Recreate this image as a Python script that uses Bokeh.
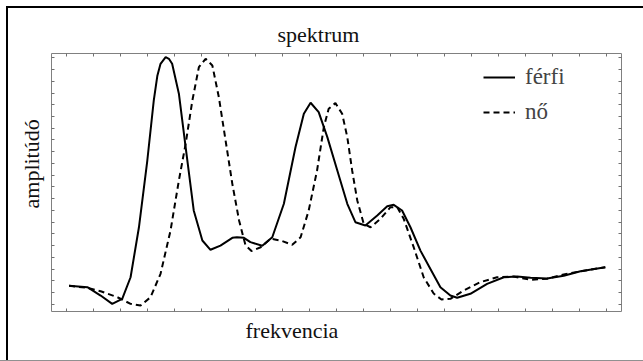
import math
from bokeh.plotting import figure
from bokeh.models import (Range1d, LinearAxis, FixedTicker, Title, Legend, LegendItem)
from bokeh.embed import file_html
from bokeh.resources import INLINE

# ---- data (frequency in tick units, amplitude in tick units) ----
male_x = [0.09, 0.77, 1.26, 1.69, 2.06, 2.37, 2.68, 2.99, 3.23, 3.36, 3.48, 3.67, 3.79, 3.91, 4.16, 4.41,
          4.71, 5.03, 5.33, 5.70, 6.14, 6.31, 6.57, 6.81, 7.25, 7.62, 8.05, 8.48, 8.79, 9.04,
          9.34, 9.66, 10.03, 10.40, 10.70, 11.07, 11.51, 11.88, 12.12, 12.43, 12.74, 13.11,
          13.48, 13.85, 14.22, 14.47, 14.96, 15.58, 16.20, 16.69, 17.19, 17.80, 18.42, 19.04, 19.96]
male_y = [1.57, 1.45, 0.74, 0.03, 0.46, 2.30, 6.56, 12.25, 17.37, 19.45, 20.49, 21.06, 20.92, 20.49, 17.94, 13.38,
          7.99, 5.43, 4.64, 5.00, 5.66, 5.71, 5.66, 5.29, 4.98, 5.71, 8.56, 13.38, 16.23, 17.17,
          16.37, 14.24, 11.40, 8.56, 6.99, 6.71, 7.56, 8.35, 8.47, 7.99, 6.56, 4.57,
          3.00, 1.45, 0.74, 0.55, 0.89, 1.74, 2.30, 2.36, 2.25, 2.19, 2.42, 2.81, 3.15]

female_x = [0.09, 0.77, 1.26, 1.88, 2.37, 2.74, 3.11, 3.48, 3.85, 4.16, 4.41, 4.66, 4.90, 5.15,
            5.40, 5.64, 5.89, 6.14, 6.39, 6.63, 6.85, 7.19, 7.56, 7.93, 8.36, 8.67, 8.97, 9.28,
            9.53, 9.71, 9.96, 10.21, 10.40, 10.58, 10.77, 11.01, 11.26, 11.63, 12.00, 12.25,
            12.49, 12.86, 13.23, 13.60, 13.89, 14.22, 14.71, 15.33, 15.95, 16.57, 17.19, 17.80,
            18.42, 19.04, 19.96]
female_y = [1.57, 1.40, 1.11, 0.60, 0.03, -0.11, 0.60, 2.59, 6.28, 10.55, 13.67, 17.37, 20.20, 20.92,
            20.35, 17.65, 13.96, 10.26, 7.14, 5.00, 4.54, 4.86, 5.58, 5.43, 5.06, 5.71, 7.99, 11.40,
            15.09, 16.66, 17.14, 16.23, 14.24, 11.40, 8.84, 6.85, 6.56, 7.28, 8.27, 8.27,
            7.28, 4.86, 2.30, 0.91, 0.40, 0.46, 1.17, 1.88, 2.30, 2.36, 2.08, 2.17,
            2.53, 2.81, 3.15]

x_ticks = list(range(0, 21))
y_ticks = list(range(0, 22))

title_text = "spektrum"
x_label = "frekvencia"
y_label = "amplitúdó"
series_names = ["férfi", "nő"]

FONT = "Liberation Serif"

p = figure(width=643, height=361, output_backend="svg", toolbar_location=None,
           x_range=Range1d(-0.56, 20.56), y_range=Range1d(-0.62, 21.37),
           x_axis_type=None, y_axis_type=None,
           min_border_left=51, min_border_right=22, min_border_top=53, min_border_bottom=50)
p.border_fill_color = None
p.background_fill_color = "white"
p.outline_line_color = "#808080"
p.outline_line_width = 1
p.grid.visible = False
p.styles = {"background-color": "white",
            "box-shadow": "inset 0 -1px 0 0 #909090, inset 6px 6px 0 0 #ffffff, inset 8px 8px 0 0 #000000"}

def frame_axis(side, ticks):
    ax = LinearAxis(ticker=FixedTicker(ticks=ticks))
    ax.major_tick_in = 3
    ax.major_tick_out = 0
    ax.minor_tick_in = 0
    ax.minor_tick_out = 0
    ax.major_tick_line_color = "#707070"
    ax.axis_line_color = None
    ax.major_label_overrides = {t: "" for t in ticks}
    ax.major_label_text_font_size = "1px"
    ax.major_label_standoff = 0
    p.add_layout(ax, side)

frame_axis("below", x_ticks)
frame_axis("above", x_ticks)
frame_axis("left", y_ticks)
frame_axis("right", y_ticks)

r_m = p.line(male_x, male_y, line_color="black", line_width=2)
r_f = p.line(female_x, female_y, line_color="black", line_width=2, line_dash="6 4")

legend = Legend(items=[LegendItem(label=series_names[0], renderers=[r_m]),
                       LegendItem(label=series_names[1], renderers=[r_f])],
                location=(432, 186))
legend.label_text_font = FONT
legend.label_text_font_size = "23px"
legend.glyph_width = 32
legend.glyph_height = 26
legend.label_height = 26
legend.spacing = 9
legend.padding = 0
legend.margin = 0
legend.label_standoff = 10
legend.border_line_color = None
legend.background_fill_alpha = 0
p.add_layout(legend, "center")

def add_title(text, side, offset, standoff):
    t = Title(text=text, align="left", offset=offset, standoff=standoff,
              text_font=FONT, text_font_size="22px", text_font_style="normal",
              text_color="#111111")
    p.add_layout(t, side)

add_title(title_text, "above", 226, 14)
add_title(x_label, "below", 194, 8)
add_title(y_label, "left", 103, 16)

open("out.html", "w").write(file_html(p, INLINE))
